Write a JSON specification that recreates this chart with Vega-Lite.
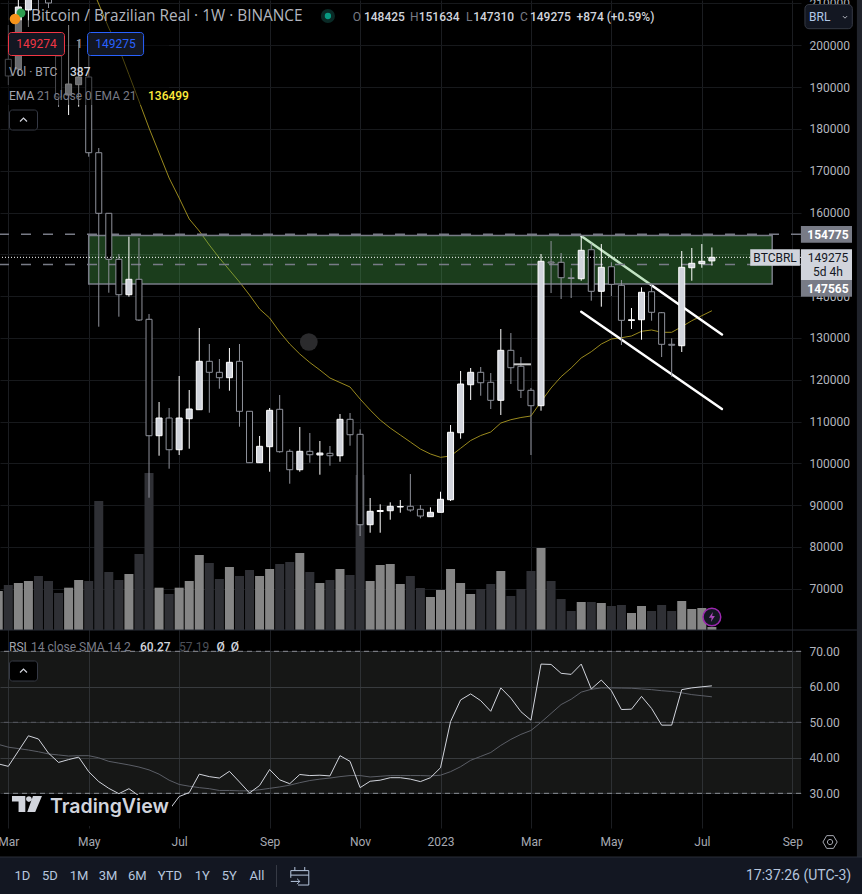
{"$schema":"https://vega.github.io/schema/vega-lite/v6.json","width":801,"height":828,"autosize":{"type":"none"},"padding":{"left":0,"top":0,"right":61,"bottom":66},"background":"#000000",
"config":{"view":{"stroke":null},"text":{"font":"Roboto","fontSize":12,"align":"left","baseline":"middle"},"axis":{"labelFont":"Roboto","titleFont":"Roboto"}},
"datasets":{"weeks":[
{"date":"2022-02-28","vol":5031,"vol_dir":"up","rsi":38.3,"rsi_ma":43.8},
{"date":"2022-03-07","o":196650,"h":204860,"l":190500,"c":192660,"dir":"down","vol":5805,"vol_dir":"down","rsi":37.6,"rsi_ma":43},
{"date":"2022-03-14","o":194330,"h":210840,"l":192660,"c":209160,"dir":"up","vol":6063,"vol_dir":"up","rsi":41.9,"rsi_ma":42.6},
{"date":"2022-03-21","o":208445,"h":216820,"l":204380,"c":214425,"dir":"up","vol":6321,"vol_dir":"up","rsi":46.2,"rsi_ma":42.2},
{"date":"2022-03-28","o":220406,"h":222800,"l":207010,"c":213229,"dir":"down","vol":6966,"vol_dir":"down","rsi":45.3,"rsi_ma":41.7},
{"date":"2022-04-04","o":213229,"h":215620,"l":208920,"c":210120,"dir":"down","vol":6321,"vol_dir":"down","rsi":41.3,"rsi_ma":41.1},
{"date":"2022-04-11","o":197440,"h":202464,"l":185240,"c":187632,"dir":"down","vol":4773,"vol_dir":"down","rsi":38.7,"rsi_ma":40.8},
{"date":"2022-04-18","o":188110,"h":204856,"l":183326,"c":190742,"dir":"up","vol":5457,"vol_dir":"up","rsi":39.5,"rsi_ma":40.5},
{"date":"2022-04-25","o":190574,"h":201100,"l":185311,"c":192416,"dir":"up","vol":6450,"vol_dir":"up","rsi":40.2,"rsi_ma":40.6},
{"date":"2022-05-02","o":192416,"h":197680,"l":173350,"c":174306,"dir":"down","vol":6321,"vol_dir":"down","rsi":36.1,"rsi_ma":40.6,"ema":215620},
{"date":"2022-05-09","o":174306,"h":175431,"l":132680,"c":159811,"dir":"down","vol":16641,"vol_dir":"down","rsi":33.3,"rsi_ma":40,"ema":209880},
{"date":"2022-05-16","o":159811,"h":159880,"l":140816,"c":148805,"dir":"down","vol":7482,"vol_dir":"down","rsi":31.4,"rsi_ma":39,"ema":204140},
{"date":"2022-05-23","o":148805,"h":150072,"l":135074,"c":140336,"dir":"down","vol":6450,"vol_dir":"down","rsi":29.9,"rsi_ma":38.5,"ema":199350},
{"date":"2022-05-30","o":140336,"h":154211,"l":139859,"c":144020,"dir":"up","vol":7224,"vol_dir":"up","rsi":31.3,"rsi_ma":38,"ema":193010},
{"date":"2022-06-06","o":144020,"h":153900,"l":134043,"c":134282,"dir":"down","vol":9804,"vol_dir":"down","rsi":29.3,"rsi_ma":37.4,"ema":186675},
{"date":"2022-06-13","o":134450,"h":135717,"l":91771,"c":106606,"dir":"down","vol":20253,"vol_dir":"down","rsi":22,"rsi_ma":36.6,"ema":180215},
{"date":"2022-06-20","o":106606,"h":114665,"l":101817,"c":110841,"dir":"up","vol":5457,"vol_dir":"up","rsi":22.5,"rsi_ma":35.4,"ema":174235},
{"date":"2022-06-27","o":110841,"h":113231,"l":98711,"c":103252,"dir":"down","vol":4644,"vol_dir":"down","rsi":25.3,"rsi_ma":33.7,"ema":168255},
{"date":"2022-07-04","o":103252,"h":120886,"l":101990,"c":110841,"dir":"up","vol":5457,"vol_dir":"up","rsi":29.1,"rsi_ma":32.5,"ema":163470},
{"date":"2022-07-11","o":110672,"h":117537,"l":103494,"c":112992,"dir":"up","vol":6321,"vol_dir":"up","rsi":30.2,"rsi_ma":32,"ema":158445},
{"date":"2022-07-18","o":112825,"h":132370,"l":112825,"c":124400,"dir":"up","vol":9675,"vol_dir":"up","rsi":35.4,"rsi_ma":31.6,"ema":155575},
{"date":"2022-07-25","o":124400,"h":128542,"l":112105,"c":121771,"dir":"down","vol":8643,"vol_dir":"down","rsi":34.7,"rsi_ma":31.3,"ema":152225},
{"date":"2022-08-01","o":121771,"h":124955,"l":117846,"c":120480,"dir":"down","vol":6579,"vol_dir":"down","rsi":34.3,"rsi_ma":30.8,"ema":149115},
{"date":"2022-08-08","o":120480,"h":127585,"l":117369,"c":124165,"dir":"up","vol":8127,"vol_dir":"up","rsi":36.2,"rsi_ma":30.8,"ema":146245},
{"date":"2022-08-15","o":124400,"h":128542,"l":108757,"c":112442,"dir":"down","vol":6966,"vol_dir":"down","rsi":33.2,"rsi_ma":30.7,"ema":143375},
{"date":"2022-08-22","o":112442,"h":112510,"l":100075,"c":100146,"dir":"down","vol":7740,"vol_dir":"down","rsi":30.1,"rsi_ma":30.7,"ema":140265},
{"date":"2022-08-29","o":100146,"h":106534,"l":100075,"c":104067,"dir":"up","vol":6966,"vol_dir":"up","rsi":32.2,"rsi_ma":31,"ema":136915},
{"date":"2022-09-05","o":103975,"h":113231,"l":97992,"c":112683,"dir":"up","vol":7869,"vol_dir":"up","rsi":36.7,"rsi_ma":31.4,"ema":134760},
{"date":"2022-09-12","o":112921,"h":116341,"l":102537,"c":102776,"dir":"down","vol":8514,"vol_dir":"down","rsi":33.8,"rsi_ma":31.8,"ema":131415},
{"date":"2022-09-19","o":102871,"h":103349,"l":95122,"c":98471,"dir":"down","vol":8772,"vol_dir":"down","rsi":32.7,"rsi_ma":32.3,"ema":128540},
{"date":"2022-09-26","o":98471,"h":108686,"l":97992,"c":102871,"dir":"up","vol":9933,"vol_dir":"up","rsi":35.3,"rsi_ma":33,"ema":126150},
{"date":"2022-10-03","o":102871,"h":107250,"l":100146,"c":102058,"dir":"down","vol":7482,"vol_dir":"down","rsi":35,"rsi_ma":33.6,"ema":124115},
{"date":"2022-10-10","o":101990,"h":105337,"l":97275,"c":102464,"dir":"up","vol":6063,"vol_dir":"up","rsi":35.1,"rsi_ma":34,"ema":122320},
{"date":"2022-10-17","o":102392,"h":104140,"l":99430,"c":101817,"dir":"down","vol":6450,"vol_dir":"down","rsi":34.9,"rsi_ma":34.3,"ema":120410},
{"date":"2022-10-24","o":101817,"h":111795,"l":100385,"c":110525,"dir":"up","vol":7869,"vol_dir":"up","rsi":40.6,"rsi_ma":34.7,"ema":119330},
{"date":"2022-10-31","o":110525,"h":112035,"l":104210,"c":106842,"dir":"down","vol":7095,"vol_dir":"down","rsi":39,"rsi_ma":35,"ema":118255},
{"date":"2022-11-07","o":106940,"h":108135,"l":82610,"c":85315,"dir":"down","vol":19995,"vol_dir":"down","rsi":31.6,"rsi_ma":35,"ema":115385},
{"date":"2022-11-14","o":85315,"h":91700,"l":83400,"c":88520,"dir":"up","vol":6321,"vol_dir":"up","rsi":33.4,"rsi_ma":34.6,"ema":112755},
{"date":"2022-11-21","o":88470,"h":90190,"l":83400,"c":88710,"dir":"up","vol":8385,"vol_dir":"up","rsi":33.7,"rsi_ma":34.8,"ema":110360},
{"date":"2022-11-28","o":88660,"h":90670,"l":86510,"c":89720,"dir":"up","vol":8514,"vol_dir":"up","rsi":34.4,"rsi_ma":35,"ema":108445},
{"date":"2022-12-05","o":89550,"h":91220,"l":88180,"c":89670,"dir":"up","vol":5934,"vol_dir":"up","rsi":34.4,"rsi_ma":35,"ema":106770},
{"date":"2022-12-12","o":89720,"h":97440,"l":88420,"c":88830,"dir":"down","vol":6966,"vol_dir":"down","rsi":34,"rsi_ma":35,"ema":105100},
{"date":"2022-12-19","o":89000,"h":90030,"l":86840,"c":87400,"dir":"down","vol":5418,"vol_dir":"down","rsi":33.3,"rsi_ma":35,"ema":103420},
{"date":"2022-12-26","o":87230,"h":89475,"l":87230,"c":88280,"dir":"up","vol":4257,"vol_dir":"up","rsi":34.4,"rsi_ma":34.9,"ema":102230},
{"date":"2023-01-02","o":88280,"h":93200,"l":88280,"c":91390,"dir":"up","vol":5160,"vol_dir":"up","rsi":37.2,"rsi_ma":35.1,"ema":101435},
{"date":"2023-01-09","o":91290,"h":109160,"l":90980,"c":107420,"dir":"up","vol":7869,"vol_dir":"up","rsi":50.2,"rsi_ma":36.1,"ema":101745},
{"date":"2023-01-16","o":107320,"h":122080,"l":105890,"c":118970,"dir":"up","vol":6063,"vol_dir":"up","rsi":56.3,"rsi_ma":37.5,"ema":103590},
{"date":"2023-01-23","o":118800,"h":122800,"l":115150,"c":121770,"dir":"up","vol":4644,"vol_dir":"up","rsi":58,"rsi_ma":39.3,"ema":105455},
{"date":"2023-01-30","o":121770,"h":123040,"l":116170,"c":119280,"dir":"down","vol":5289,"vol_dir":"down","rsi":56.1,"rsi_ma":40.4,"ema":106650},
{"date":"2023-02-06","o":119380,"h":121600,"l":112990,"c":115070,"dir":"down","vol":5934,"vol_dir":"down","rsi":53.1,"rsi_ma":41.5,"ema":107490},
{"date":"2023-02-13","o":115070,"h":132130,"l":111560,"c":127030,"dir":"up","vol":7611,"vol_dir":"up","rsi":59.7,"rsi_ma":43.5,"ema":109640},
{"date":"2023-02-20","o":127030,"h":131170,"l":118970,"c":122870,"dir":"down","vol":4386,"vol_dir":"down","rsi":56.8,"rsi_ma":45.2,"ema":110435},
{"date":"2023-02-27","o":123210,"h":125430,"l":115620,"c":117470,"dir":"down","vol":5289,"vol_dir":"down","rsi":53,"rsi_ma":46.6,"ema":110955},
{"date":"2023-03-06","o":117470,"h":118020,"l":101990,"c":113780,"dir":"down","vol":7611,"vol_dir":"down","rsi":50.6,"rsi_ma":47.7,"ema":111320},
{"date":"2023-03-13","o":113780,"h":150070,"l":112590,"c":148330,"dir":"up","vol":10578,"vol_dir":"up","rsi":66.4,"rsi_ma":50,"ema":114740},
{"date":"2023-03-20","o":148160,"h":153180,"l":140740,"c":147920,"dir":"down","vol":6321,"vol_dir":"down","rsi":66.3,"rsi_ma":52.5,"ema":118020},
{"date":"2023-03-27","o":148090,"h":150310,"l":139310,"c":144400,"dir":"down","vol":3999,"vol_dir":"down","rsi":63.8,"rsi_ma":55,"ema":120720},
{"date":"2023-04-03","o":144400,"h":146650,"l":139550,"c":144210,"dir":"down","vol":2451,"vol_dir":"down","rsi":63.5,"rsi_ma":56.5,"ema":122800},
{"date":"2023-04-10","o":144160,"h":154380,"l":143680,"c":150960,"dir":"up","vol":3612,"vol_dir":"up","rsi":66.4,"rsi_ma":58.5,"ema":125195},
{"date":"2023-04-17","o":151100,"h":152630,"l":138900,"c":141150,"dir":"down","vol":3612,"vol_dir":"down","rsi":59.4,"rsi_ma":59.3,"ema":126700},
{"date":"2023-04-24","o":141150,"h":152460,"l":137470,"c":146890,"dir":"up","vol":3483,"vol_dir":"up","rsi":61.9,"rsi_ma":59.7,"ema":128540},
{"date":"2023-05-01","o":147030,"h":148090,"l":140020,"c":142820,"dir":"down","vol":3096,"vol_dir":"down","rsi":58.9,"rsi_ma":59.7,"ema":129740},
{"date":"2023-05-08","o":142580,"h":143850,"l":128300,"c":134210,"dir":"down","vol":3225,"vol_dir":"down","rsi":53.6,"rsi_ma":59.65,"ema":130050},
{"date":"2023-05-15","o":134160,"h":137150,"l":132130,"c":134350,"dir":"up","vol":2193,"vol_dir":"up","rsi":53.7,"rsi_ma":59.6,"ema":130455},
{"date":"2023-05-22","o":134350,"h":142100,"l":129570,"c":140910,"dir":"up","vol":3096,"vol_dir":"up","rsi":57.3,"rsi_ma":59.4,"ema":131580},
{"date":"2023-05-29","o":141050,"h":142660,"l":134110,"c":136130,"dir":"down","vol":2451,"vol_dir":"down","rsi":53.9,"rsi_ma":59.2,"ema":131890},
{"date":"2023-06-05","o":136030,"h":136200,"l":125430,"c":128470,"dir":"down","vol":3225,"vol_dir":"down","rsi":49.2,"rsi_ma":58.9,"ema":131340},
{"date":"2023-06-12","o":128470,"h":129900,"l":120720,"c":128250,"dir":"down","vol":2451,"vol_dir":"down","rsi":49.2,"rsi_ma":58.7,"ema":131340},
{"date":"2023-06-19","o":128130,"h":150790,"l":126630,"c":146890,"dir":"up","vol":3741,"vol_dir":"up","rsi":59.2,"rsi_ma":58.3,"ema":132680},
{"date":"2023-06-26","o":146790,"h":151510,"l":143680,"c":147850,"dir":"up","vol":2709,"vol_dir":"up","rsi":59.7,"rsi_ma":57.8,"ema":134115},
{"date":"2023-07-03","o":147750,"h":152460,"l":146790,"c":148330,"dir":"up","vol":2838,"vol_dir":"up","rsi":60,"rsi_ma":57.5,"ema":135310},
{"date":"2023-07-10","o":148425,"h":151634,"l":147310,"c":149275,"dir":"up","vol":387,"vol_dir":"up","rsi":60.27,"rsi_ma":57.19,"ema":136499}
]},
"data":{"name":"weeks"},
"resolve":{"scale":{"y":"independent","fill":"independent"},"axis":{"y":"independent"}},
"layer":[
{"layer":[
 {"data":{"values":[{"lo":30,"hi":70}]},"mark":{"type":"rect","fill":"#f0fff4","fillOpacity":0.09},"encoding":{"y":{"field":"hi","type":"quantitative","scale":{"domain":[20.23,253.46],"nice":false,"zero":false},"axis":{"orient":"right","title":null,"values":[30,40,50,60,70],"format":".2f","domain":false,"ticks":false,"labelPadding":8,"labelFontSize":12,"labelColor":"#b2b5be","labelFont":"Roboto","gridColor":"#26282c","grid":true}},"y2":{"field":"lo"}}},
 {"data":{"values":[{"level":70},{"level":30}]},"mark":{"type":"rule","color":"#8a8d94","strokeDash":[5,4],"strokeWidth":1},"encoding":{"y":{"field":"level","type":"quantitative"}}},
 {"data":{"values":[{"level":50}]},"mark":{"type":"rule","color":"#55585f","strokeDash":[5,4],"strokeWidth":1},"encoding":{"y":{"field":"level","type":"quantitative"}}},
 {"mark":{"type":"line","color":"#5b5e66","strokeWidth":1},"encoding":{"x":{"field":"date","type":"temporal"},"y":{"field":"rsi_ma","type":"quantitative"}}},
 {"mark":{"type":"line","color":"#d1d4dc","strokeWidth":1},"encoding":{"x":{"field":"date","type":"temporal"},"y":{"field":"rsi","type":"quantitative"}}}
]},
{"layer":[
 {"mark":{"type":"bar","width":9,"opacity":1},"encoding":{"x":{"field":"date","type":"temporal"},"y":{"field":"vol","type":"quantitative","stack":null,"scale":{"domain":[-25542,81270],"nice":false,"zero":false},"axis":null},"fill":{"field":"vol_dir","type":"nominal","scale":{"domain":["up","down"],"range":["#858585","#2f3035"]},"legend":null}}},
 {"data":{"values":[{"date":"2022-02-20","date2":"2023-10-19","vol":0}]},"mark":{"type":"rule","color":"#2a2e39","strokeWidth":1},"encoding":{"x":{"field":"date","type":"temporal"},"x2":{"field":"date2"},"y":{"field":"vol","type":"quantitative"}}}
]},
{"layer":[
 {"mark":{"type":"line","color":"#9a8a1e","strokeWidth":1},"encoding":{"x":{"field":"date","type":"temporal","scale":{"type":"utc","domain":[1646111808000,1694309184000],"padding":0},"axis":{"title":null,"values":[1646611200000,1651449600000,1656892800000,1662336000000,1667779200000,1672617600000,1678060800000,1682899200000,1688342400000,1693785600000],"labelExpr":"utcFormat(datum.value,'%Y%b')=='2023Jan' ? '2023' : utcFormat(datum.value,'%b')","domain":false,"ticks":false,"labelPadding":8,"labelFontSize":12,"labelColor":"#a6a9b2","labelFlush":false,"labelOverlap":false,"grid":true,"gridColor":"#1b1d21"}},"y":{"field":"ema","type":"quantitative","scale":{"domain":[12759,210837],"nice":false,"zero":false},"axis":{"orient":"right","title":null,"values":[70000,80000,90000,100000,110000,120000,130000,140000,150000,160000,170000,180000,190000,200000,210000],"labelExpr":"datum.value==150000 ? '' : format(datum.value,'d')","domain":false,"ticks":false,"labelPadding":8,"labelFontSize":12,"labelColor":"#b2b5be","grid":true,"gridColor":"#17191c"}}}},
 {"data":{"values":[{"date":"2023-04-10","price":154378,"series":"upper"},{"date":"2023-07-17","price":130814,"series":"upper"},{"date":"2023-04-10","price":136269,"series":"lower"},{"date":"2023-07-17","price":112990,"series":"lower"}]},"mark":{"type":"line","color":"#ffffff","strokeWidth":2.5,"strokeCap":"round"},"encoding":{"x":{"field":"date","type":"temporal"},"y":{"field":"price","type":"quantitative"},"detail":{"field":"series"}}},
 {"data":{"values":[{"date":"2022-05-02","date2":"2023-08-21","price":154498,"price2":142895}]},"mark":{"type":"rect","fill":"#4caf50","fillOpacity":0.35,"stroke":"#787b86","strokeWidth":1.5},"encoding":{"x":{"field":"date","type":"temporal"},"x2":{"field":"date2"},"y":{"field":"price","type":"quantitative"},"y2":{"field":"price2"}}},
 {"data":{"values":[{"level":154775},{"level":147565}]},"mark":{"type":"rule","color":"#787b86","strokeDash":[10,12],"strokeWidth":1.5},"encoding":{"y":{"field":"level","type":"quantitative"}}},
 {"mark":{"type":"rule","strokeWidth":1},"encoding":{"x":{"field":"date","type":"temporal"},"y":{"field":"h","type":"quantitative"},"y2":{"field":"l"},"color":{"field":"dir","type":"nominal","scale":{"domain":["up","down"],"range":["#ffffff","#8f929b"]},"legend":null}}},
 {"mark":{"type":"bar","width":6,"strokeWidth":1,"opacity":1},"encoding":{"x":{"field":"date","type":"temporal"},"y":{"field":"o","type":"quantitative"},"y2":{"field":"c"},"fill":{"field":"dir","type":"nominal","scale":{"domain":["up","down"],"range":["#d1d4dc","#000000"]},"legend":null},"stroke":{"field":"dir","type":"nominal","scale":{"domain":["up","down"],"range":["#ffffff","#8f929b"]},"legend":null}}},
 {"data":{"values":[{"date":"2023-02-22","price":123684},{"date":"2023-03-06","price":123684}]},"mark":{"type":"line","color":"#c8c8c8","strokeWidth":2},"encoding":{"x":{"field":"date","type":"temporal"},"y":{"field":"price","type":"quantitative"}}},
 {"data":{"values":[{"level":149275}]},"mark":{"type":"rule","color":"#ffffff","strokeDash":[1,2],"strokeWidth":1},"encoding":{"y":{"field":"level","type":"quantitative"}}},
 {"data":{"values":[{"date":"2022-03-01","date2":"2022-06-27","price":206000,"price2":185700}]},"mark":{"type":"rect","fill":"#000000","fillOpacity":0.5},"encoding":{"x":{"field":"date","type":"temporal"},"x2":{"field":"date2"},"y":{"field":"price","type":"quantitative"},"y2":{"field":"price2"}}},
 {"data":{"values":[{"date":"2022-10-02T07:00:00Z","price":129020}]},"mark":{"type":"point","shape":"circle","filled":true,"size":314,"fill":"#2b2b2d","opacity":1},"encoding":{"x":{"field":"date","type":"temporal"},"y":{"field":"price","type":"quantitative"}}},
 {"data":{"values":[{"date":"2022-03-08T05:00:00Z","date2":"2022-06-29","price":20644,"price2":13225}]},"mark":{"type":"rect","fill":"#000000"},"encoding":{"x":{"field":"date","type":"temporal"},"x2":{"field":"date2"},"y":{"field":"price","type":"quantitative"},"y2":{"field":"price2"}}},
 {"data":{"values":[{"date":"2022-04-05","price":17783,"label":"TradingView"}]},"mark":{"type":"text","font":"Inter","fontWeight":600,"fontSize":19.5,"color":"#d1d4dc"},"encoding":{"x":{"field":"date","type":"temporal"},"y":{"field":"price","type":"quantitative"},"text":{"field":"label"}}},
 {"data":{"values":[{"date":"2022-03-20","price":18500}]},"mark":{"type":"point","shape":"M-1,-0.53 H-0.11 V0.53 H-0.56 V-0.16 H-1 Z M-0.06,-0.33 A0.19,0.19 0 1 1 0.32,-0.33 A0.19,0.19 0 1 1 -0.06,-0.33 Z M0.4,-0.53 H1 L0.55,0.53 H0.02 Z","filled":true,"size":900,"fill":"#d1d4dc","opacity":1},"encoding":{"x":{"field":"date","type":"temporal"},"y":{"field":"price","type":"quantitative"}}},
 {"data":{"values":[{"date":"2023-07-10","price":63232}]},"mark":{"type":"point","shape":"circle","filled":true,"size":314,"fill":"#131722","stroke":"#9c27b0","strokeWidth":1.5,"opacity":1},"encoding":{"x":{"field":"date","type":"temporal"},"y":{"field":"price","type":"quantitative"}}},
 {"data":{"values":[{"date":"2023-07-10","price":63232}]},"mark":{"type":"point","shape":"M0.2,-1 L-0.6,0.15 L-0.05,0.15 L-0.2,1 L0.6,-0.2 L0.05,-0.2 Z","filled":true,"size":100,"fill":"#ab47bc","opacity":1},"encoding":{"x":{"field":"date","type":"temporal"},"y":{"field":"price","type":"quantitative"}}},
 {"data":{"values":[{"date":"2022-03-15T20:00:00Z","price":207727}]},"mark":{"type":"point","shape":"circle","filled":true,"size":80,"fill":"#2e9e4f","opacity":1},"encoding":{"x":{"field":"date","type":"temporal"},"y":{"field":"price","type":"quantitative"}}},
 {"data":{"values":[{"date":"2022-03-11T16:00:00Z","price":206300}]},"mark":{"type":"point","shape":"circle","filled":true,"size":113,"fill":"#f7931a","opacity":1},"encoding":{"x":{"field":"date","type":"temporal"},"y":{"field":"price","type":"quantitative"}}},
 {"data":{"values":[{"date":"2022-10-15T14:00:00Z","price":207009}]},"mark":{"type":"point","shape":"circle","filled":true,"size":200,"fill":"#0a2a26","opacity":1},"encoding":{"x":{"field":"date","type":"temporal"},"y":{"field":"price","type":"quantitative"}}},
 {"data":{"values":[{"date":"2022-10-15T14:00:00Z","price":207009}]},"mark":{"type":"point","shape":"circle","filled":true,"size":40,"fill":"#089981","opacity":1},"encoding":{"x":{"field":"date","type":"temporal"},"y":{"field":"price","type":"quantitative"}}},
 {"data":{"values":[{"date":"2022-03-22T19:00:00Z","price":207009,"label":"Bitcoin / Brazilian Real · 1W · BINANCE"}]},"mark":{"type":"text","font":"Open Sans","fontSize":15.4,"color":"#b2b5be"},"encoding":{"x":{"field":"date","type":"temporal"},"y":{"field":"price","type":"quantitative"},"text":{"field":"label"}}},
 {"data":{"values":[{"date":"2022-11-01T20:00:00Z","price":206770,"label":"O"},{"date":"2022-12-11T17:00:00Z","price":206770,"label":"H"},{"date":"2023-01-19T17:00:00Z","price":206770,"label":"L"},{"date":"2023-02-26T07:00:00Z","price":206770,"label":"C"},{"date":"2022-03-27","price":187871,"label":"21 close 0 EMA 21"},{"date":"2022-03-22T19:00:00Z","price":56055,"label":"14 close SMA 14 2"}]},"mark":{"type":"text","color":"#787b86"},"encoding":{"x":{"field":"date","type":"temporal"},"y":{"field":"price","type":"quantitative"},"text":{"field":"label"}}},
 {"data":{"values":[{"date":"2022-11-09T17:00:00Z","price":206770,"label":"148425"},{"date":"2022-12-17T19:00:00Z","price":206770,"label":"151634"},{"date":"2023-01-24T19:00:00Z","price":206770,"label":"147310"},{"date":"2023-03-05T07:00:00Z","price":206770,"label":"149275"},{"date":"2023-04-06T19:00:00Z","price":206770,"label":"+874 (+0.59%)"},{"date":"2022-04-19","price":193612,"label":"387"},{"date":"2022-06-06T17:00:00Z","price":56055,"label":"60.27"},{"date":"2022-07-30T02:00:00Z","price":56055,"label":"Ø"},{"date":"2022-08-08T22:00:00Z","price":56055,"label":"Ø"}]},"mark":{"type":"text","color":"#d1d4dc","fontWeight":500},"encoding":{"x":{"field":"date","type":"temporal"},"y":{"field":"price","type":"quantitative"},"text":{"field":"label"}}},
 {"data":{"values":[{"date":"2022-03-07T12:00:00Z","price":193612,"label":"Vol · BTC"},{"date":"2022-03-07T12:00:00Z","price":187871,"label":"EMA"},{"date":"2022-03-07T12:00:00Z","price":56055,"label":"RSI"},{"date":"2022-04-23T03:00:00Z","price":200311,"label":"1"}]},"mark":{"type":"text","color":"#a3a6af"},"encoding":{"x":{"field":"date","type":"temporal"},"y":{"field":"price","type":"quantitative"},"text":{"field":"label"}}},
 {"data":{"values":[{"date":"2022-06-12T07:00:00Z","price":187871,"label":"136499"}]},"mark":{"type":"text","color":"#ffeb3b","fontWeight":500},"encoding":{"x":{"field":"date","type":"temporal"},"y":{"field":"price","type":"quantitative"},"text":{"field":"label"}}},
 {"data":{"values":[{"date":"2022-07-03T22:00:00Z","price":56055,"label":"57.19"}]},"mark":{"type":"text","color":"#4d5058"},"encoding":{"x":{"field":"date","type":"temporal"},"y":{"field":"price","type":"quantitative"},"text":{"field":"label"}}},
 {"data":{"values":[{"date":"2022-03-07T03:00:00Z","date2":"2022-04-15T03:00:00Z","price":203062,"price2":197560}]},"mark":{"type":"rect","fill":"#131722","stroke":"#f23645","strokeWidth":1,"cornerRadius":3},"encoding":{"x":{"field":"date","type":"temporal"},"x2":{"field":"date2"},"y":{"field":"price","type":"quantitative"},"y2":{"field":"price2"}}},
 {"data":{"values":[{"date":"2022-05-01T05:00:00Z","date2":"2022-06-09T05:00:00Z","price":203062,"price2":197560}]},"mark":{"type":"rect","fill":"#131722","stroke":"#2962ff","strokeWidth":1,"cornerRadius":3},"encoding":{"x":{"field":"date","type":"temporal"},"x2":{"field":"date2"},"y":{"field":"price","type":"quantitative"},"y2":{"field":"price2"}}},
 {"data":{"values":[{"date":"2022-03-26T15:00:00Z","price":200311,"label":"149274"}]},"mark":{"type":"text","align":"center","color":"#f23645"},"encoding":{"x":{"field":"date","type":"temporal"},"y":{"field":"price","type":"quantitative"},"text":{"field":"label"}}},
 {"data":{"values":[{"date":"2022-05-20T17:00:00Z","price":200311,"label":"149275"}]},"mark":{"type":"text","align":"center","color":"#2962ff"},"encoding":{"x":{"field":"date","type":"temporal"},"y":{"field":"price","type":"quantitative"},"text":{"field":"label"}}},
 {"data":{"values":[{"date":"2022-03-07T20:00:00Z","date2":"2022-03-27T08:00:00Z","price":184522,"price2":179737},{"date":"2022-03-07T20:00:00Z","date2":"2022-03-27T08:00:00Z","price":52705,"price2":47921}]},"mark":{"type":"rect","fill":"#000000","stroke":"#363a45","strokeWidth":1,"cornerRadius":3},"encoding":{"x":{"field":"date","type":"temporal"},"x2":{"field":"date2"},"y":{"field":"price","type":"quantitative"},"y2":{"field":"price2"}}},
 {"data":{"values":[{"date":"2022-03-17T14:00:00Z","price":182130},{"date":"2022-03-17T14:00:00Z","price":50313}]},"mark":{"type":"point","shape":"M-0.7,0.3 L0,-0.4 L0.7,0.3","filled":false,"size":100,"stroke":"#d1d4dc","strokeWidth":1.2,"opacity":1},"encoding":{"x":{"field":"date","type":"temporal"},"y":{"field":"price","type":"quantitative"}}},
 {"data":{"values":[{"date":"2023-09-12T19:00:00Z","date2":"2023-10-15T19:00:00Z","price":209760,"price2":203971}]},"mark":{"type":"rect","fill":"#131722","stroke":"#363a45","strokeWidth":1,"cornerRadius":4},"encoding":{"x":{"field":"date","type":"temporal"},"x2":{"field":"date2"},"y":{"field":"price","type":"quantitative"},"y2":{"field":"price2"}}},
 {"data":{"values":[{"date":"2023-09-15T17:00:00Z","price":206770,"label":"BRL"}]},"mark":{"type":"text","color":"#b2c8e8"},"encoding":{"x":{"field":"date","type":"temporal"},"y":{"field":"price","type":"quantitative"},"text":{"field":"label"}}},
 {"data":{"values":[{"date":"2023-10-10T17:00:00Z","price":206770}]},"mark":{"type":"point","shape":"M-0.7,-0.3 L0,0.4 L0.7,-0.3","filled":false,"size":36,"stroke":"#b2b5be","strokeWidth":1,"opacity":1},"encoding":{"x":{"field":"date","type":"temporal"},"y":{"field":"price","type":"quantitative"}}},
 {"data":{"values":[{"date":"2023-09-10","date2":"2023-10-15T14:00:00Z","price":156772,"price2":152776},{"date":"2023-09-10","date2":"2023-10-15T14:00:00Z","price":143853,"price2":139859}]},"mark":{"type":"rect","fill":"#787b86"},"encoding":{"x":{"field":"date","type":"temporal"},"x2":{"field":"date2"},"y":{"field":"price","type":"quantitative"},"y2":{"field":"price2"}}},
 {"data":{"values":[{"date":"2023-09-10","date2":"2023-10-15T14:00:00Z","price":151197,"price2":143853},{"date":"2023-08-05T17:00:00Z","date2":"2023-09-09T07:00:00Z","price":151197,"price2":147274}]},"mark":{"type":"rect","fill":"#d1d4dc"},"encoding":{"x":{"field":"date","type":"temporal"},"x2":{"field":"date2"},"y":{"field":"price","type":"quantitative"},"y2":{"field":"price2"}}},
 {"data":{"values":[{"date":"2023-09-28T19:00:00Z","price":154737,"label":"154775"},{"date":"2023-09-28T19:00:00Z","price":141820,"label":"147565"}]},"mark":{"type":"text","align":"center","color":"#ffffff","fontWeight":700},"encoding":{"x":{"field":"date","type":"temporal"},"y":{"field":"price","type":"quantitative"},"text":{"field":"label"}}},
 {"data":{"values":[{"date":"2023-09-28T19:00:00Z","price":149118,"label":"149275"},{"date":"2023-09-28T19:00:00Z","price":145765,"label":"5d 4h"},{"date":"2023-08-23","price":149118,"label":"BTCBRL"}]},"mark":{"type":"text","align":"center","color":"#131722"},"encoding":{"x":{"field":"date","type":"temporal"},"y":{"field":"price","type":"quantitative"},"text":{"field":"label"}}},
 {"data":{"values":[{"date":"2023-10-19","date2":"2023-11-10","price":225000,"price2":5817}]},"mark":{"type":"rect","fill":"#20232b"},"encoding":{"x":{"field":"date","type":"temporal"},"x2":{"field":"date2"},"y":{"field":"price","type":"quantitative"},"y2":{"field":"price2"}}},
 {"data":{"values":[{"date":"2022-02-20","date2":"2023-11-10","price":5817,"price2":-5000}]},"mark":{"type":"rect","fill":"#131722","stroke":"#2a2e39","strokeWidth":1},"encoding":{"x":{"field":"date","type":"temporal"},"x2":{"field":"date2"},"y":{"field":"price","type":"quantitative"},"y2":{"field":"price2"}}},
 {"data":{"values":[{"date":"2022-09-09T19:00:00Z","price":3903,"price2":-1360}]},"mark":{"type":"rule","color":"#363a45","strokeWidth":1},"encoding":{"x":{"field":"date","type":"temporal"},"y":{"field":"price","type":"quantitative"},"y2":{"field":"price2"}}},
 {"data":{"values":[{"date":"2022-03-16T18:00:00Z","price":1271,"label":"1D"},{"date":"2022-04-05","price":1271,"label":"5D"},{"date":"2022-04-25T05:00:00Z","price":1271,"label":"1M"},{"date":"2022-05-15T10:00:00Z","price":1271,"label":"3M"},{"date":"2022-06-04T19:00:00Z","price":1271,"label":"6M"},{"date":"2022-06-27T14:00:00Z","price":1271,"label":"YTD"},{"date":"2022-07-20T02:00:00Z","price":1271,"label":"1Y"},{"date":"2022-08-07T22:00:00Z","price":1271,"label":"5Y"},{"date":"2022-08-27T05:00:00Z","price":1271,"label":"All"}]},"mark":{"type":"text","align":"center","color":"#b6c6de","fontSize":13},"encoding":{"x":{"field":"date","type":"temporal"},"y":{"field":"price","type":"quantitative"},"text":{"field":"label"}}},
 {"data":{"values":[{"date":"2022-09-26","price":1271}]},"mark":{"type":"point","shape":"M-1,-0.6 H1 V1 H-0.2 M-1,-0.6 V0.2 M-0.55,-1 V-0.6 M0.55,-1 V-0.6 M-1,-0.1 H1 M-1,0.6 H0 M-0.3,0.3 L0,0.6 L-0.3,0.9","filled":false,"size":324,"stroke":"#b6c6de","strokeWidth":1,"opacity":1},"encoding":{"x":{"field":"date","type":"temporal"},"y":{"field":"price","type":"quantitative"}}},
 {"data":{"values":[{"date":"2023-10-15","price":1271,"label":"17:37:26 (UTC-3)"}]},"mark":{"type":"text","align":"right","color":"#b6c6de","fontSize":14},"encoding":{"x":{"field":"date","type":"temporal"},"y":{"field":"price","type":"quantitative"},"text":{"field":"label"}}},
 {"data":{"values":[{"date":"2023-09-30T07:00:00Z","price":9407}]},"mark":{"type":"point","shape":"M-0.45,-0.85 L0.45,-0.85 L0.95,0 L0.45,0.85 L-0.45,0.85 L-0.95,0 Z M0.35,0 A0.35,0.35 0 1 1 -0.35,0 A0.35,0.35 0 1 1 0.35,0 Z","filled":false,"size":225,"stroke":"#a6a9b2","strokeWidth":1,"opacity":1},"encoding":{"x":{"field":"date","type":"temporal"},"y":{"field":"price","type":"quantitative"}}}
]}
]}
